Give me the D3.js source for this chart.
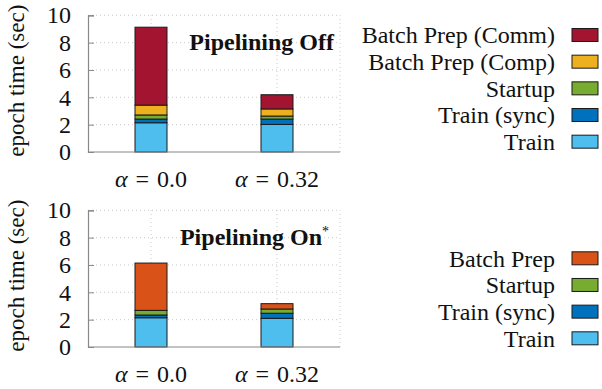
<!DOCTYPE html>
<html><head><meta charset="utf-8">
<script src="https://cdn.jsdelivr.net/npm/d3@7"></script>
<style>
body{margin:0;background:#fff;}
text{font-family:"Liberation Serif","Times New Roman",serif;fill:#111;}
</style></head>
<body><svg id="c" width="602" height="389"></svg>
<script>
const categories = ["0.0", "0.32"];
const yTicks = [0, 2, 4, 6, 8, 10];

// Pipelining Off
const offSeries = ["Train", "Train (sync)", "Startup", "Batch Prep (Comp)", "Batch Prep (Comm)"];
const offTrain = [2.14, 2.02];
const offSync = [0.27, 0.39];
const offStartup = [0.30, 0.22];
const offComp = [0.72, 0.52];
const offComm = [5.70, 1.04];

// Pipelining On
const onSeries = ["Train", "Train (sync)", "Startup", "Batch Prep"];
const onTrain = [2.14, 2.10];
const onSync = [0.20, 0.37];
const onStartup = [0.34, 0.31];
const onPrep = [3.46, 0.39];

const colors = {
  "Train": "#4DBEEE",
  "Train (sync)": "#0072BD",
  "Startup": "#77AC30",
  "Batch Prep (Comp)": "#EDB120",
  "Batch Prep (Comm)": "#A2142F",
  "Batch Prep": "#D95319"
};

const svg = d3.select("#c");
const FS = 24;

function panel(cfg) {
  const x0 = 88, x1 = 340;
  const y = d3.scaleLinear().domain([0, 10]).range([cfg.yb, cfg.yt]);
  const x = d3.scalePoint().domain(categories).range([151, 277]);
  const g = svg.append("g");

  // grid
  g.selectAll(".hg").data(yTicks.filter(d => d > 0)).join("line")
    .attr("x1", x0).attr("x2", x1).attr("y1", d => y(d)).attr("y2", d => y(d))
    .attr("stroke", "#bbb").attr("stroke-width", 0.8).attr("stroke-dasharray", "1,3");
  g.selectAll(".vg").data(categories).join("line")
    .attr("x1", d => x(d)).attr("x2", d => x(d)).attr("y1", y(0)).attr("y2", y(10))
    .attr("stroke", "#bbb").attr("stroke-width", 0.8).attr("stroke-dasharray", "1,3");
  g.append("line").attr("x1", x1).attr("x2", x1).attr("y1", y(0)).attr("y2", y(10))
    .attr("stroke", "#bbb").attr("stroke-width", 0.8).attr("stroke-dasharray", "1,3");

  // bars
  const rows = categories.map((c, i) => {
    const r = {cat: c};
    cfg.series.forEach((s, k) => r[s] = cfg.values[k][i]);
    return r;
  });
  const stack = d3.stack().keys(cfg.series)(rows);
  const bw = 32;
  stack.forEach(layer => {
    g.selectAll(null).data(layer).join("rect")
      .attr("x", d => x(d.data.cat) - bw / 2)
      .attr("width", bw)
      .attr("y", d => y(d[1]))
      .attr("height", d => y(d[0]) - y(d[1]))
      .attr("fill", colors[layer.key])
      .attr("stroke", "#1a1a1a").attr("stroke-width", 1);
  });

  // axes
  const ya = d3.axisLeft(y).tickValues(yTicks).tickSize(-6).tickPadding(17).tickFormat(d3.format("d"));
  const ag = g.append("g").attr("transform", `translate(${x0},0)`).call(ya);
  ag.select(".domain").attr("stroke", "#888").attr("stroke-width", 1.2);
  ag.selectAll(".tick line").attr("stroke", "#888");
  ag.selectAll(".tick text").attr("font-size", FS).attr("fill", "#111")
    .attr("font-family", "'Liberation Serif',serif");
  g.append("line").attr("x1", x0).attr("x2", x1).attr("y1", y(0)).attr("y2", y(0))
    .attr("stroke", "#888").attr("stroke-width", 1.2);

  // x labels
  categories.forEach(c => {
    const t = g.append("text").attr("x", x(c)).attr("y", cfg.yb + 35)
      .attr("text-anchor", "middle").attr("font-size", FS);
    t.append("tspan").attr("font-style", "italic").text("α");
    t.append("tspan").text("\u2004=\u2004" + c);
  });

  // y label
  g.append("text").attr("transform", `translate(24,${(cfg.yb + cfg.yt) / 2 - 3}) rotate(-90)`)
    .attr("text-anchor", "middle").attr("font-size", 23).text("epoch time (sec)");

  // title
  const tt = g.append("text").attr("x", cfg.titleX).attr("y", cfg.yt + 35)
    .attr("text-anchor", "end").attr("font-size", FS).attr("font-weight", "bold");
  tt.append("tspan").text(cfg.title);
  if (cfg.star) tt.append("tspan").attr("dy", -9).attr("font-size", 14).attr("font-weight", "normal").text("*");

  // legend
  const leg = cfg.series.slice().reverse();
  leg.forEach((s, i) => {
    const cy = cfg.legY + i * 26.67;
    g.append("text").attr("x", 555).attr("y", cy).attr("dy", "0.35em")
      .attr("text-anchor", "end").attr("font-size", FS).text(s);
    g.append("rect").attr("x", 572).attr("y", cy - 6.5).attr("width", 26).attr("height", 13)
      .attr("fill", colors[s]).attr("stroke", "#1a1a1a").attr("stroke-width", 1);
  });
}

panel({yb: 152, yt: 15.3, series: offSeries, values: [offTrain, offSync, offStartup, offComp, offComm],
  title: "Pipelining Off", titleX: 334, star: false, legY: 35});
panel({yb: 347, yt: 210.3, series: onSeries, values: [onTrain, onSync, onStartup, onPrep],
  title: "Pipelining On", titleX: 329, star: true, legY: 258.3});
</script></body></html>
